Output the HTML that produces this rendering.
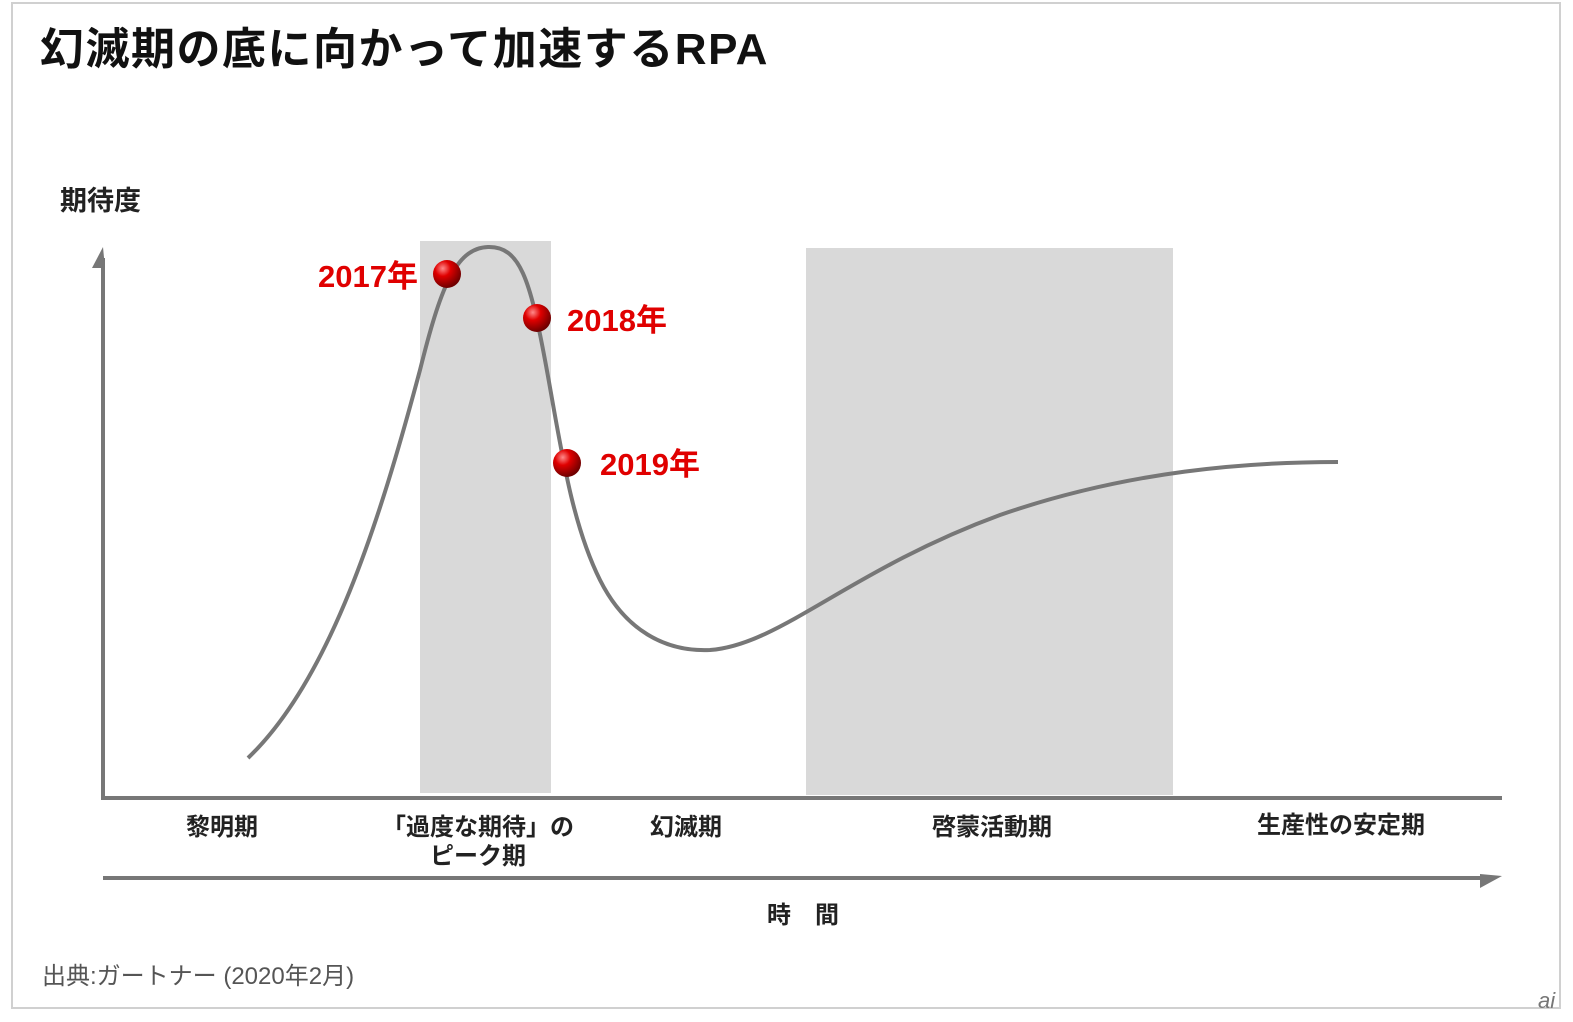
<!DOCTYPE html>
<html><head><meta charset="utf-8"><style>
html,body{margin:0;padding:0;background:#fff;}
svg{display:block;}
text{font-family:"Liberation Sans","Noto Sans CJK JP",sans-serif;}
</style></head><body>
<svg width="1573" height="1022" viewBox="0 0 1573 1022" xmlns="http://www.w3.org/2000/svg">
<defs>
<radialGradient id="g" cx="0.35" cy="0.3" r="0.7">
<stop offset="0" stop-color="#ff8a8a"/><stop offset="0.4" stop-color="#e00000"/><stop offset="1" stop-color="#700000"/>
</radialGradient>
</defs>
<rect x="12" y="3" width="1548" height="1005" fill="#fff" stroke="#d0d0d0" stroke-width="2"/>
<text x="40" y="64" font-size="44" font-weight="bold" fill="#111" letter-spacing="1.5">幻滅期の底に向かって加速するRPA</text>
<text x="60" y="210" font-size="27" font-weight="bold" fill="#222">期待度</text>
<rect x="420" y="241" width="131" height="552" fill="#d9d9d9"/>
<rect x="806" y="248" width="367" height="547" fill="#d9d9d9"/>
<line x1="103" y1="258" x2="103" y2="800" stroke="#777" stroke-width="4"/>
<polygon points="92,268 103,247 105,268" fill="#777"/>
<line x1="101" y1="798" x2="1502" y2="798" stroke="#777" stroke-width="4"/>
<line x1="103" y1="878" x2="1485" y2="878" stroke="#777" stroke-width="4"/>
<polygon points="1480,874 1502,876 1480,888" fill="#777"/>
<path d="M248,758 C330,680 380,520 420,370 C440,290 455,248 488,247 C520,246 530,280 545,360 C560,440 570,520 600,580 C625,630 665,652 710,650 C780,645 850,570 1000,515 C1130,470 1250,462 1338,462" fill="none" stroke="#777" stroke-width="4"/>
<circle cx="447" cy="274" r="14" fill="url(#g)"/>
<circle cx="537" cy="318" r="14" fill="url(#g)"/>
<circle cx="567" cy="463" r="14" fill="url(#g)"/>
<text x="318" y="287" font-size="31" font-weight="bold" fill="#e00000">2017年</text>
<text x="567" y="331" font-size="31" font-weight="bold" fill="#e00000">2018年</text>
<text x="600" y="475" font-size="31" font-weight="bold" fill="#e00000">2019年</text>
<g font-size="24" font-weight="bold" fill="#222" text-anchor="middle">
<text x="222" y="835">黎明期</text>
<text x="478" y="835">「過度な期待」の</text>
<text x="478" y="864">ピーク期</text>
<text x="686" y="835">幻滅期</text>
<text x="992" y="835">啓蒙活動期</text>
<text x="1341" y="833">生産性の安定期</text>
<text x="803" y="923">時　間</text>
</g>
<text x="42" y="984" font-size="24" fill="#555">出典:ガートナー (2020年2月)</text>
<text x="1538" y="1008" font-size="22" font-style="italic" fill="#777">ai</text>
</svg>
</body></html>
